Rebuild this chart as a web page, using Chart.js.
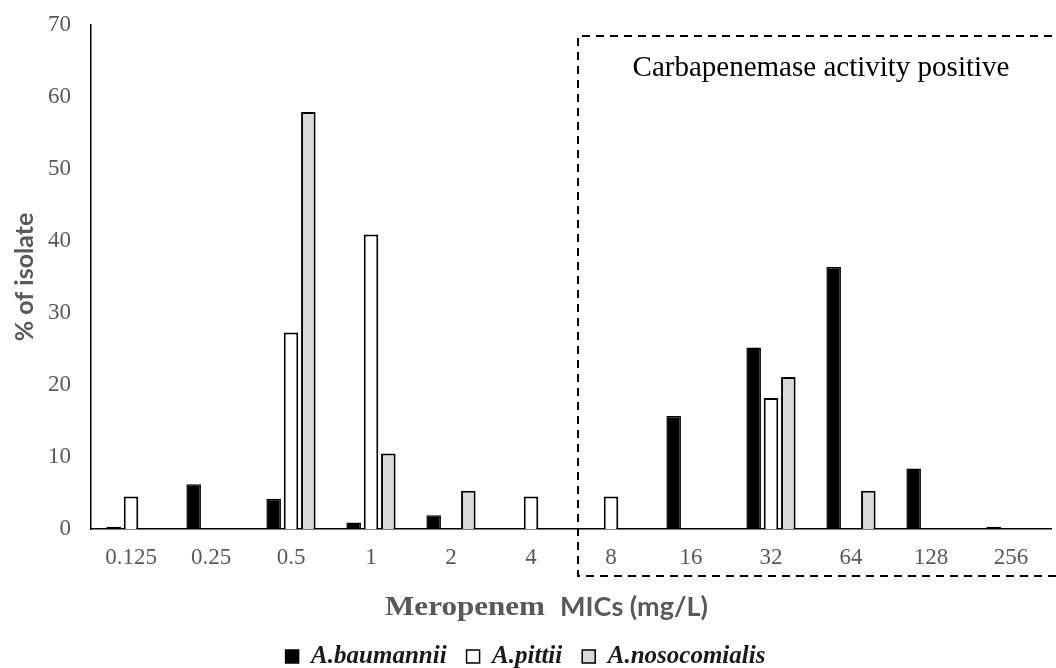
<!DOCTYPE html>
<html>
<head>
<meta charset="utf-8">
<script src="https://cdn.jsdelivr.net/npm/chart.js@4.4.1/dist/chart.umd.min.js"></script>
<style>
  html, body { margin: 0; padding: 0; background: #fff; }
  #wrap { width: 1056px; height: 668px; }
</style>
</head>
<body>
<div id="wrap"><canvas id="mic-chart"></canvas></div>
<script>
// MIC categories (mg/L) and % of isolates per species
var micLabels = ['0.125', '0.25', '0.5', '1', '2', '4', '8', '16', '32', '64', '128', '256'];
var baumannii = [0.3, 6.2, 4.2, 0.9, 1.9, 0, 0, 15.7, 25.2, 36.4, 8.4, 0.3];
var pittii = [4.5, 0, 27.3, 40.9, 0, 4.5, 4.5, 0, 18.2, 0, 0, 0];
var nosocomialis = [0, 0, 57.9, 10.5, 5.3, 0, 0, 0, 21.1, 5.3, 0, 0];
var yTicks = [0, 10, 20, 30, 40, 50, 60, 70];
var boxStart = 6; // first category inside the carbapenemase box
var boxText = 'Carbapenemase activity positive';
var xTitle = ['Meropenem', 'MICs (mg/L)'];

var tickColor = '#595959';
var serif = '"Liberation Serif", "Times New Roman", serif';
var sans = 'Lato, "Liberation Sans", Arial, sans-serif';

// draw text squeezed/stretched to a given width
function fitText(ctx, txt, x, y, w){
    var m = ctx.measureText(txt).width;
    ctx.save();
    ctx.translate(x, y);
    ctx.scale(w / m, 1);
    ctx.fillText(txt, 0, 0);
    ctx.restore();
}

// dashed box + caption, and the x title (two fonts like the original)
var carbaBox = {
    id: 'carbaBox',
    afterDraw: function(chart){
        var x = chart.scales.x, area = chart.chartArea, ctx = chart.ctx;
        var left = (x.getPixelForTick(boxStart - 1) + x.getPixelForTick(boxStart)) / 2 + 7;
        var top = area.top + 11;
        var bottom = area.bottom + 47;
        var right = chart.width + 10;
        ctx.save();
        ctx.strokeStyle = '#000';
        ctx.lineWidth = 2;
        ctx.setLineDash([8, 6]);
        ctx.beginPath();
        ctx.moveTo(right, top);
        ctx.lineTo(left, top);
        ctx.lineTo(left, bottom);
        ctx.lineTo(right, bottom);
        ctx.stroke();
        ctx.setLineDash([]);
        ctx.fillStyle = '#000';
        ctx.font = '29px ' + serif;
        ctx.textAlign = 'center';
        ctx.textBaseline = 'middle';
        ctx.fillText(boxText, 821, area.top + 43);

        // x axis title
        var ty = area.bottom + 79, cx = 546;
        ctx.fillStyle = tickColor;
        ctx.textAlign = 'left';
        ctx.textBaseline = 'middle';
        ctx.font = 'bold 28px ' + serif;
        fitText(ctx, xTitle[0], cx - 161, ty, 160);
        ctx.font = 'bold 26px ' + sans;
        fitText(ctx, xTitle[1], cx + 14, ty, 148);
        ctx.restore();
    }
};

var ctx = document.getElementById('mic-chart').getContext('2d');
new Chart(ctx, {
    type: 'bar',
    data: {
        labels: micLabels,
        datasets: [{
            label: 'A.baumannii',
            data: baumannii,
            backgroundColor: '#000000',
            borderColor: '#000000',
            borderWidth: 1.5
        }, {
            label: 'A.pittii',
            data: pittii,
            backgroundColor: '#ffffff',
            borderColor: '#000000',
            borderWidth: 2
        }, {
            label: 'A.nosocomialis',
            data: nosocomialis,
            backgroundColor: '#d9d9d9',
            borderColor: '#000000',
            borderWidth: 2
        }]
    },
    options: {
        responsive: true,
        maintainAspectRatio: false,
        animation: false,
        layout: {
            padding: { top: 25, right: 5, left: 0, bottom: -11 }
        },
        datasets: {
            bar: {
                categoryPercentage: 0.65,
                barPercentage: 0.84,
                borderSkipped: 'bottom'
            }
        },
        plugins: {
            legend: {
                display: true,
                position: 'bottom',
                labels: {
                    boxWidth: 13,
                    boxHeight: 13,
                    padding: 20,
                    color: '#1a1a1a',
                    font: { family: serif, size: 25, weight: 'bold', style: 'italic' },
                    useBorderRadius: false,
                    generateLabels: function(chart){
                        var items = Chart.defaults.plugins.legend.labels.generateLabels(chart);
                        items.forEach(function(it){ it.lineWidth = 1.5; });
                        return items;
                    }
                }
            },
            tooltip: { enabled: false }
        },
        scales: {
            x: {
                afterFit: function(scale){ scale.height = 95; },
                grid: { display: false, drawTicks: false },
                border: { display: true, color: '#000', width: 1.5 },
                ticks: {
                    color: tickColor,
                    font: { family: serif, size: 23 },
                    padding: 15,
                    maxRotation: 0
                }
            },
            y: {
                min: 0,
                max: 70,
                afterBuildTicks: function(axis){
                    axis.ticks = yTicks.map(function(v){ return { value: v }; });
                },
                afterFit: function(scale){
                    scale.width = 91;
                    scale.paddingTop = 0;
                    scale.paddingBottom = 0;
                },
                grid: { display: false, drawTicks: false },
                border: { display: true, color: '#000', width: 1.5 },
                ticks: {
                    color: tickColor,
                    font: { family: serif, size: 23 },
                    padding: 20
                },
                title: {
                    display: true,
                    text: '% of isolate',
                    color: tickColor,
                    font: { family: sans, size: 25, weight: 'bold' },
                    padding: { top: 10, bottom: 0 }
                }
            }
        }
    },
    plugins: [carbaBox]
});
</script>
</body>
</html>
